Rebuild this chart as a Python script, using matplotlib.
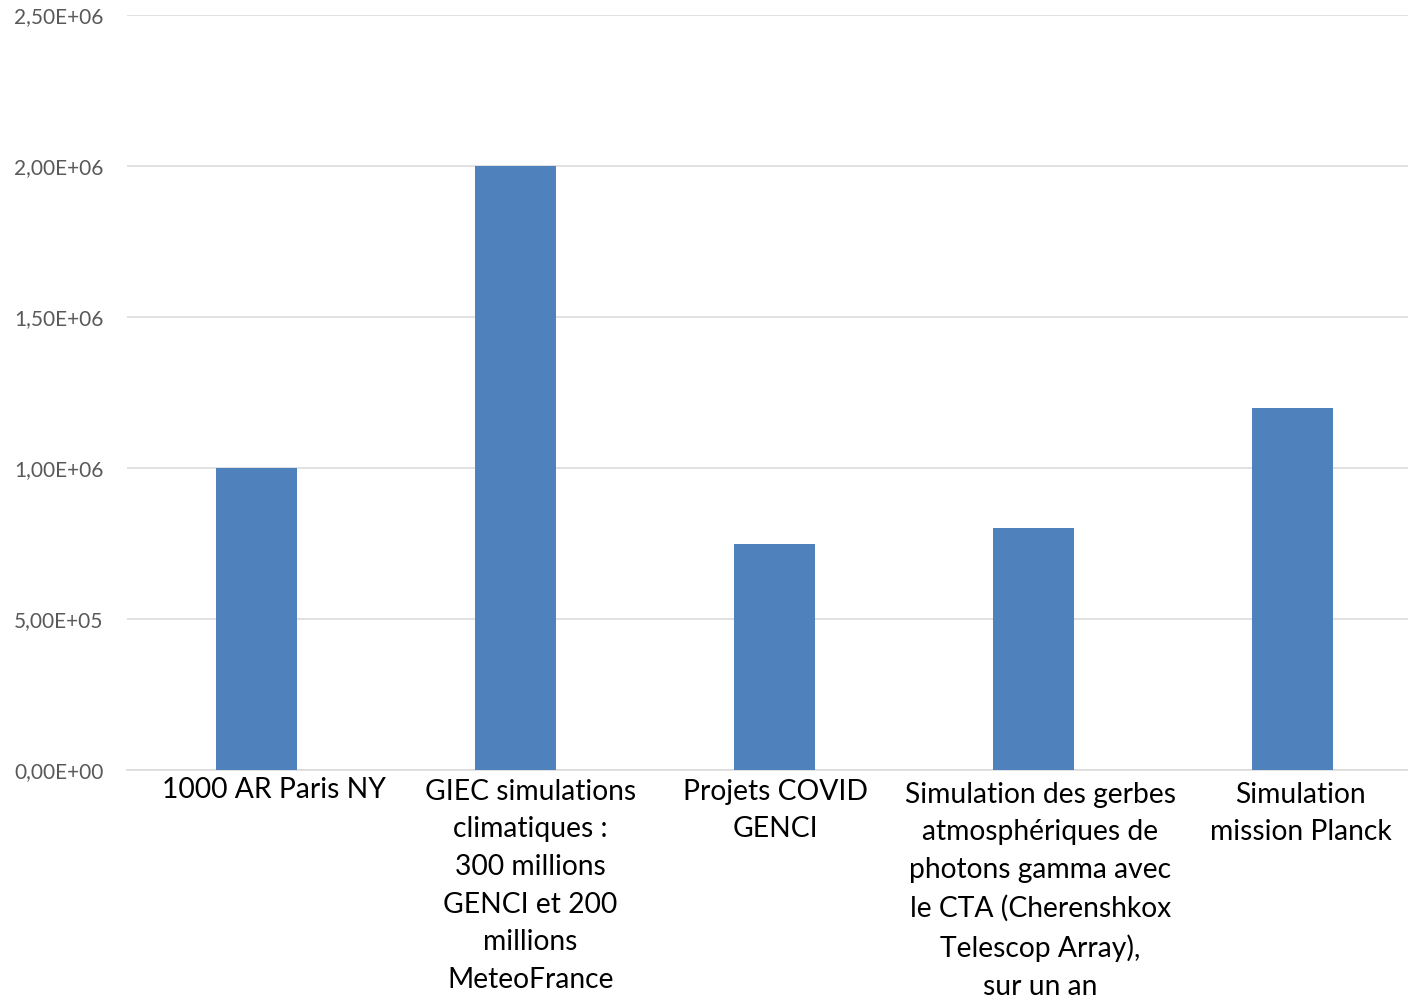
import matplotlib
matplotlib.use('Agg')
import matplotlib.pyplot as plt
import matplotlib.transforms as mtransforms
from matplotlib.ticker import FuncFormatter

categories = [
    '1000 AR Paris NY',
    'GIEC simulations\nclimatiques :\n300 millions\nGENCI et 200\nmillions\nMeteoFrance',
    'Projets COVID\nGENCI',
    'Simulation des gerbes\natmosphériques de\nphotons gamma avec\nle CTA (Cherenshkox\nTelescop Array),\nsur un an',
    'Simulation\nmission Planck',
]
values = [1.0e6, 2.0e6, 7.5e5, 8.0e5, 1.2e6]
y_ticks = [0, 5e5, 1e6, 1.5e6, 2e6, 2.5e6]
# horizontal shift of each category label (px), as in the reference
label_shift = [18, 15, 1, 7, 8]
label_drop = [0, 2, 2, 5, 5]

plt.rcParams['font.family'] = ['Lato', 'DejaVu Sans']

fig = plt.figure(figsize=(14.08, 9.97), dpi=100)
ax = fig.add_axes([127 / 1408, 227 / 997, 1295 / 1408, 755 / 997])

x = list(range(len(categories)))
ax.bar(x, values, width=0.31, color='#4F81BD', zorder=3)

ax.set_xlim(-0.5, len(categories) - 0.5)
ax.set_ylim(0, 2.5e6)
ax.set_yticks(y_ticks)
ax.yaxis.set_major_formatter(FuncFormatter(lambda v, p: '{0:.2E}'.format(v).replace('.', ',')))
ax.grid(axis='y', color='#D9D9D9', linewidth=1.1, zorder=0)

ax.set_xticks(x)
ax.set_xticklabels(categories, fontsize=20.3, color='black', linespacing=1.55, va='top')
ax.tick_params(axis='x', length=0, pad=5)
ax.tick_params(axis='y', length=0, pad=17, labelsize=15, labelcolor='#595959')

for lbl, dx, dy in zip(ax.get_xticklabels(), label_shift, label_drop):
    off = mtransforms.ScaledTranslation(dx / 100, -dy / 100, fig.dpi_scale_trans)
    lbl.set_transform(lbl.get_transform() + off)

for side in ['top', 'right', 'left']:
    ax.spines[side].set_visible(False)
ax.spines['bottom'].set_color('#D9D9D9')
ax.spines['bottom'].set_linewidth(1.1)

fig.savefig('out.png', dpi=100)
